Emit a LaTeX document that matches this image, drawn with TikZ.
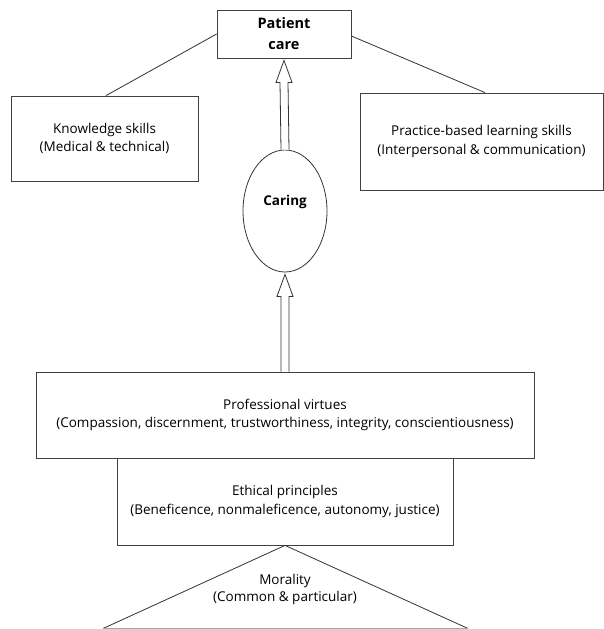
\documentclass[tikz,border=0pt]{standalone}
\usepackage{fontspec}
\setmainfont{Open Sans}
\usetikzlibrary{calc,shapes.geometric}

\tikzset{
  frame/.style={draw=black!75, line width=0.8pt, fill=white, rectangle,
    inner sep=0pt, align=center, font=\fontsize{13.5}{18.5}\selectfont},
  headbox/.style={frame, font=\bfseries\fontsize{14.5}{21}\selectfont},
  oval/.style={draw=black!80, line width=0.8pt, ellipse, inner sep=0pt,
    font=\bfseries\fontsize{13.5}{16}\selectfont},
  link/.style={draw=black!80, line width=0.8pt},
  hollow/.style={draw=black!80, line width=0.8pt, fill=white, line join=miter},
  plain/.style={align=center, inner sep=0pt, font=\fontsize{13.5}{17}\selectfont}
}

\begin{document}
\begin{tikzpicture}[x=1pt,y=-1pt]
  \useasboundingbox (0,0) rectangle (603,629);

  % top level and the two skill boxes
  \node[headbox, minimum width=134pt, minimum height=48pt] (pc) at (284,34) {Patient\\care};
  \node[frame, minimum width=187pt, minimum height=85pt] (ks) at (104.5,138.5)
    {Knowledge skills\\(Medical \& technical)};
  \node[frame, minimum width=243pt, minimum height=97pt] (pb) at (481.5,141.5)
    {Practice-based learning skills\\(Interpersonal \& communication)};

  \draw[link] (pc.west) -- ($(ks.north)+(1.5,0)$);
  \draw[link] ($(pc.east)+(0,2)$) -- ($(pb.north)+(3.5,0)$);

  % caring
  \node[oval, minimum width=84pt, minimum height=122pt] (care) at (285,211) {\raisebox{22pt}{Caring}};

  % the virtue and principle blocks
  \node[frame, minimum width=498pt, minimum height=86pt] (pv) at (285,415)
    {Professional virtues\\(Compassion, discernment, trustworthiness, integrity, conscientiousness)};
  \node[frame, minimum width=336pt, minimum height=87pt] (ep) at (285,501.5)
    {Ethical principles\\(Beneficence, nonmaleficence, autonomy, justice)};

  % morality triangle at the base
  \coordinate (apex) at (ep.south);
  \coordinate (bl) at (103,628.5);
  \coordinate (br) at (468,628.5);
  \draw[link] (bl) -- (apex) -- (br);
  \draw[draw=black!35, line width=0.6pt] (bl) -- (br);
  \node[plain] (mo) at (285,589) {Morality\\(Common \& particular)};

  % hollow arrows: caring -> patient care, virtues -> caring
  \draw[hollow]
    ($(care.north)+(-4,0)$) -- ($(pc.south)+(-4,24)$) -- ($(pc.south)+(-8,24)$)
    -- ($(pc.south)+(0,2)$) -- ($(pc.south)+(8,24)$) -- ($(pc.south)+(4,24)$)
    -- ($(care.north)+(4,0)$);
  \draw[hollow]
    ($(pv.north)+(-4,0)$) -- ($(care.south)+(-4,24)$) -- ($(care.south)+(-8,24)$)
    -- ($(care.south)+(0,2)$) -- ($(care.south)+(8,24)$) -- ($(care.south)+(4,24)$)
    -- ($(pv.north)+(4,0)$);
\end{tikzpicture}
\end{document}
